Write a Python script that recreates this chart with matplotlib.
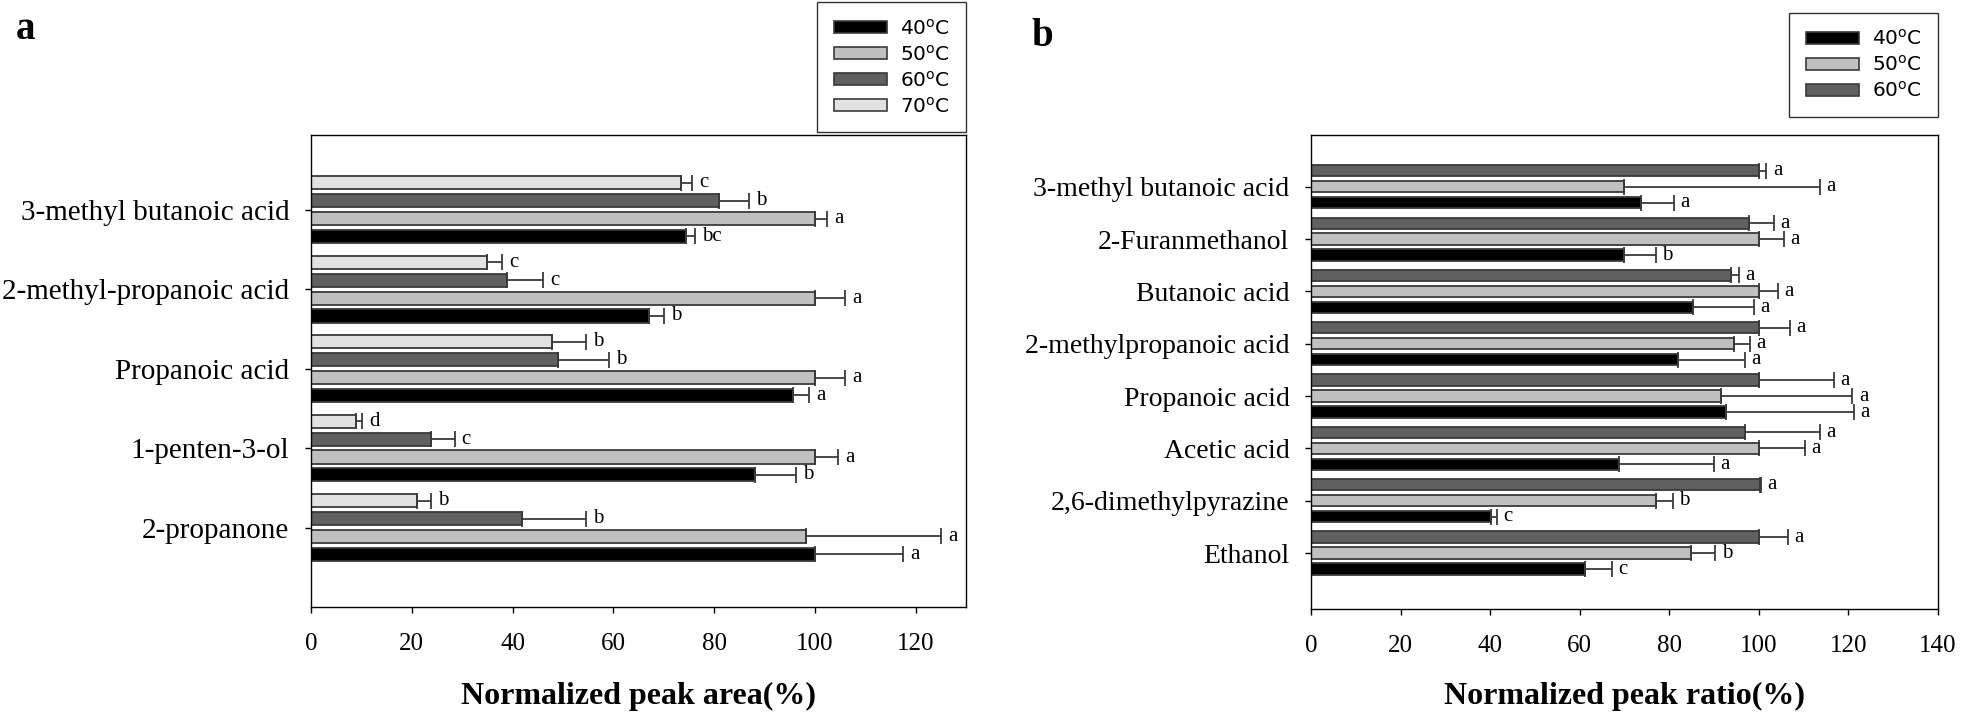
import numpy as np
import matplotlib
matplotlib.use("Agg")
import matplotlib.pyplot as plt
from matplotlib.patches import Patch

plt.rcParams['font.family'] = 'Liberation Serif'

# panel a data (groups listed bottom -> top)
cmp_a = ['2-propanone', '1-penten-3-ol', 'Propanoic acid',
         '2-methyl-propanoic acid', '3-methyl butanoic acid']
temps_a = ['40', '50', '60', '70']
a_40 = [100.0, 88.1, 95.6, 67.1, 74.5]
a_50 = [98.2, 100.0, 100.0, 100.0, 100.0]
a_60 = [41.9, 23.9, 49.0, 38.9, 80.9]
a_70 = [21.1, 8.9, 47.8, 35.0, 73.5]
e_40 = [17.5, 8.1, 3.3, 3.0, 1.8]
e_50 = [26.9, 4.6, 6.0, 6.0, 2.4]
e_60 = [12.7, 4.6, 10.2, 7.2, 6.0]
e_70 = [2.7, 1.2, 6.8, 3.0, 2.2]
l_40 = ['a', 'b', 'a', 'b', 'bc']
l_50 = ['a', 'a', 'a', 'a', 'a']
l_60 = ['b', 'c', 'b', 'c', 'b']
l_70 = ['b', 'd', 'b', 'c', 'c']

# panel b data (groups listed bottom -> top)
cmp_b = ['Ethanol', '2,6-dimethylpyrazine', 'Acetic acid', 'Propanoic acid',
         '2-methylpropanoic acid', 'Butanoic acid', '2-Furanmethanol',
         '3-methyl butanoic acid']
temps_b = ['40', '50', '60']
b_40 = [61.1, 40.3, 68.8, 92.7, 81.9, 85.3, 70.0, 73.7]
b_50 = [84.8, 77.1, 100.0, 91.6, 94.4, 100.0, 100.0, 69.8]
b_60 = [100.0, 100.2, 96.8, 100.0, 100.0, 93.8, 97.8, 100.0]
be_40 = [6.1, 1.3, 21.1, 28.5, 15.1, 13.7, 7.0, 7.3]
be_50 = [5.5, 3.7, 10.3, 29.3, 3.6, 4.3, 5.6, 43.8]
be_60 = [6.4, 0.3, 16.8, 16.7, 7.0, 1.7, 5.5, 1.7]
bl_40 = ['c', 'c', 'a', 'a', 'a', 'a', 'b', 'a']
bl_50 = ['b', 'b', 'a', 'a', 'a', 'a', 'a', 'a']
bl_60 = ['a', 'a', 'a', 'a', 'a', 'a', 'a', 'a']

colors = {'40': '#000000', '50': '#c0c0c0', '60': '#606060', '70': '#e2e2e2'}
edge = '#3a3a3a'


def draw_panel(ax, names, vals, errs, labs, temps, step, height, xmax,
               lab_off, ysize):
    y0 = np.arange(len(names))
    n = len(temps)
    for i, t in enumerate(temps):
        pos = y0 + (i - (n - 1) / 2) * step
        ax.barh(pos, vals[i], height=height, color=colors[t], edgecolor=edge,
                linewidth=1.3, zorder=2)
        ax.errorbar(vals[i], pos, xerr=[np.zeros(len(names)), errs[i]],
                    fmt='none', ecolor=edge, elinewidth=1.3, capsize=6,
                    capthick=1.3, zorder=3)
        for v, e, p, s in zip(vals[i], errs[i], pos, labs[i]):
            ax.text(v + e + lab_off, p, s, fontsize=15, va='center', ha='left')
    ax.set_yticks(y0)
    ax.set_yticklabels(names, fontsize=ysize)
    ax.set_xlim(0, xmax)
    ax.tick_params(axis='both', direction='out', length=4.5, width=1)
    ax.tick_params(axis='y', pad=11)
    ax.tick_params(axis='x', labelsize=18, pad=14)
    for sp in ax.spines.values():
        sp.set_linewidth(1.0)


fig = plt.figure(figsize=(19.61, 7.16), dpi=100)

ax1 = fig.add_axes([0.1586, 0.1522, 0.4926 - 0.1586, 0.8115 - 0.1522])
draw_panel(ax1, cmp_a, [a_40, a_50, a_60, a_70], [e_40, e_50, e_60, e_70],
           [l_40, l_50, l_60, l_70], temps_a, 0.225, 0.165, 130, 1.4, 21)
ax1.set_ylim(-1.0, 4.94)
ax1.set_xticks(np.arange(0, 121, 20))
ax1.set_xlabel('Normalized peak area(%)', fontsize=23, fontweight='bold',
               va='center')
ax1.xaxis.set_label_coords(0.5, -0.19)

ax2 = fig.add_axes([0.6685, 0.1494, 0.9883 - 0.6685, 0.8115 - 0.1494])
draw_panel(ax2, cmp_b, [b_40, b_50, b_60], [be_40, be_50, be_60],
           [bl_40, bl_50, bl_60], temps_b, 0.305, 0.215, 140, 1.4, 20)
ax2.set_ylim(-1.07, 7.99)
ax2.set_xticks(np.arange(0, 141, 20))
ax2.set_xlabel('Normalized peak ratio(%)', fontsize=23, fontweight='bold',
               va='center')
ax2.xaxis.set_label_coords(0.5, -0.185)


# legends
def temp_handles(temps):
    return [Patch(facecolor=colors[t], edgecolor=edge, linewidth=1.2,
                  label=t + r'$^{\mathregular{o}}$C') for t in temps]


for hand, anchor in [(temp_handles(temps_a), (0.4926, 0.997)),
                     (temp_handles(temps_b), (0.9883, 0.982))]:
    leg = fig.legend(handles=hand, loc='upper right', bbox_to_anchor=anchor,
                     frameon=True, fancybox=False, edgecolor='black',
                     prop={'family': 'DejaVu Sans', 'size': 14.5},
                     handlelength=2.65, handleheight=0.5, handletextpad=0.65,
                     labelspacing=0.3, borderpad=0.8, borderaxespad=0)
    leg.get_frame().set_linewidth(1.0)

fig.text(0.008, 0.985, 'a', fontsize=28, fontweight='bold', va='top', ha='left')
fig.text(0.526, 0.975, 'b', fontsize=28, fontweight='bold', va='top', ha='left')

fig.savefig('out.png', dpi=100)
